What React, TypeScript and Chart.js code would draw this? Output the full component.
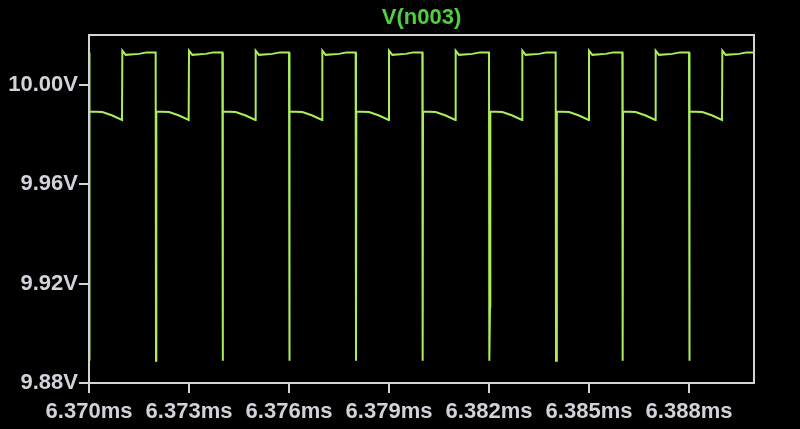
import React, { useEffect, useRef } from "react";
import { Chart, registerables } from "chart.js";

Chart.register(...registerables);

const titleText = "V(n003)";

// time in ms, one row per switching cycle
const timeMs = [
  6.37, 6.37001, 6.37002, 6.3704, 6.3707, 6.37099, 6.371, 6.3711, 6.3715, 6.37173,
  6.372, 6.37201, 6.37202, 6.3724, 6.3727, 6.37299, 6.373, 6.3731, 6.3735, 6.37373,
  6.374, 6.37401, 6.37402, 6.3744, 6.3747, 6.37499, 6.375, 6.3751, 6.3755, 6.37573,
  6.376, 6.37601, 6.37602, 6.3764, 6.3767, 6.37699, 6.377, 6.3771, 6.3775, 6.37773,
  6.378, 6.37801, 6.37802, 6.3784, 6.3787, 6.37899, 6.379, 6.3791, 6.3795, 6.37973,
  6.38, 6.38001, 6.38002, 6.3804, 6.3807, 6.38099, 6.381, 6.3811, 6.3815, 6.38173,
  6.382, 6.38201, 6.38203, 6.38204, 6.3824, 6.3827, 6.38299, 6.383, 6.3831, 6.3835, 6.38373,
  6.384, 6.38401, 6.38403, 6.38404, 6.3844, 6.3847, 6.38499, 6.385, 6.3851, 6.3855, 6.38573,
  6.386, 6.38601, 6.38602, 6.3864, 6.3867, 6.38699, 6.387, 6.3871, 6.3875, 6.38773,
  6.388, 6.38801, 6.38802, 6.3884, 6.3887, 6.38899, 6.389, 6.3891, 6.3895, 6.38973,
  6.38995,
];

// voltage in V, same rows
const voltageV = [
  10.0131, 9.889, 9.9893, 9.9891, 9.9877, 9.9859, 10.0138, 10.0121, 10.0125, 10.0131,
  10.0131, 9.889, 9.9893, 9.9891, 9.9877, 9.9859, 10.0138, 10.0121, 10.0125, 10.0131,
  10.0131, 9.889, 9.9893, 9.9891, 9.9877, 9.9859, 10.0138, 10.0121, 10.0125, 10.0131,
  10.0131, 9.889, 9.9893, 9.9891, 9.9877, 9.9859, 10.0138, 10.0121, 10.0125, 10.0131,
  10.0131, 9.889, 9.9893, 9.9891, 9.9877, 9.9859, 10.0138, 10.0121, 10.0125, 10.0131,
  10.0131, 9.889, 9.9893, 9.9891, 9.9877, 9.9859, 10.0138, 10.0121, 10.0125, 10.0131,
  10.0131, 9.889, 9.9107, 9.9893, 9.9891, 9.9877, 9.9859, 10.0138, 10.0121, 10.0125, 10.0131,
  10.0131, 9.889, 9.9537, 9.9893, 9.9891, 9.9877, 9.9859, 10.0138, 10.0121, 10.0125, 10.0131,
  10.0131, 9.889, 9.9893, 9.9891, 9.9877, 9.9859, 10.0138, 10.0121, 10.0125, 10.0131,
  10.0131, 9.889, 9.9893, 9.9891, 9.9877, 9.9859, 10.0138, 10.0121, 10.0125, 10.0131,
  10.0131,
];

const xTickValues = [6.37, 6.373, 6.376, 6.379, 6.382, 6.385, 6.388];
const xTickLabels = ["6.370ms", "6.373ms", "6.376ms", "6.379ms", "6.382ms", "6.385ms", "6.388ms"];
const yTickValues = [9.88, 9.92, 9.96, 10.0];
const yTickLabels = ["9.88V", "9.92V", "9.96V", "10.00V"];

const FONT = '"Liberation Sans", Arial, sans-serif';
const TRACE = "#aaee5a";
const FRAME = "#d4d4d8";
const LABEL = "#d2d3da";

export default function App() {
  const ref = useRef<HTMLCanvasElement | null>(null);

  useEffect(() => {
    document.body.style.margin = "0";
    document.body.style.background = "#000";
    const canvas = ref.current;
    if (!canvas) return;

    const framePlugin = {
      id: "frame",
      beforeDatasetsDraw(chart: any) {
        const { ctx, chartArea: a } = chart;
        ctx.save();
        ctx.strokeStyle = FRAME;
        ctx.lineWidth = 2;
        ctx.strokeRect(a.left, a.top, a.right - a.left, a.bottom - a.top);
        ctx.restore();
      },
      afterDraw(chart: any) {
        const { ctx, chartArea: a } = chart;
        ctx.save();
        ctx.fillStyle = "#50d040";
        ctx.font = `bold 22px ${FONT}`;
        ctx.textAlign = "center";
        ctx.textBaseline = "middle";
        ctx.fillText(titleText, (a.left + a.right) / 2, 18);
        ctx.restore();
      },
    };

    const points = timeMs.map((t, i) => ({ x: t, y: voltageV[i] }));

    const chart = new Chart(canvas, {
      type: "line",
      data: {
        datasets: [
          {
            data: points,
            borderColor: TRACE,
            borderWidth: 2,
            pointRadius: 0,
            tension: 0,
            fill: false,
          },
        ],
      },
      options: {
        animation: false,
        responsive: false,
        maintainAspectRatio: false,
        layout: { padding: { left: 0, right: 46, top: 35, bottom: 0 } },
        plugins: {
          legend: { display: false },
          title: { display: false },
          tooltip: { enabled: false },
        },
        scales: {
          x: {
            type: "linear",
            min: 6.37,
            max: 6.38995,
            afterBuildTicks: (s: any) => {
              s.ticks = xTickValues.map((v) => ({ value: v }));
            },
            afterFit: (s: any) => {
              s.height = 46;
            },
            border: { display: false },
            grid: {
              drawOnChartArea: false,
              drawTicks: true,
              tickLength: 10,
              tickColor: FRAME,
              lineWidth: 2,
            },
            ticks: {
              autoSkip: false,
              maxRotation: 0,
              padding: 6,
              color: LABEL,
              font: { family: FONT, size: 22, weight: "bold" },
              callback: (_v: any, i: number) => xTickLabels[i],
            },
          },
          y: {
            type: "linear",
            min: 9.88,
            max: 10.0201,
            afterBuildTicks: (s: any) => {
              s.ticks = yTickValues.map((v) => ({ value: v }));
            },
            afterFit: (s: any) => {
              s.width = 89;
            },
            border: { display: false },
            grid: {
              drawOnChartArea: false,
              drawTicks: true,
              tickLength: 10,
              tickColor: FRAME,
              lineWidth: 2,
            },
            ticks: {
              autoSkip: false,
              padding: 1,
              color: LABEL,
              font: { family: FONT, size: 22, weight: "bold" },
              callback: (_v: any, i: number) => yTickLabels[i],
            },
          },
        },
      },
      plugins: [framePlugin],
    });

    return () => chart.destroy();
  }, []);

  return (
    <div style={{ width: 800, height: 429, background: "#000" }}>
      <canvas ref={ref} width={800} height={429} style={{ display: "block" }} />
    </div>
  );
}
